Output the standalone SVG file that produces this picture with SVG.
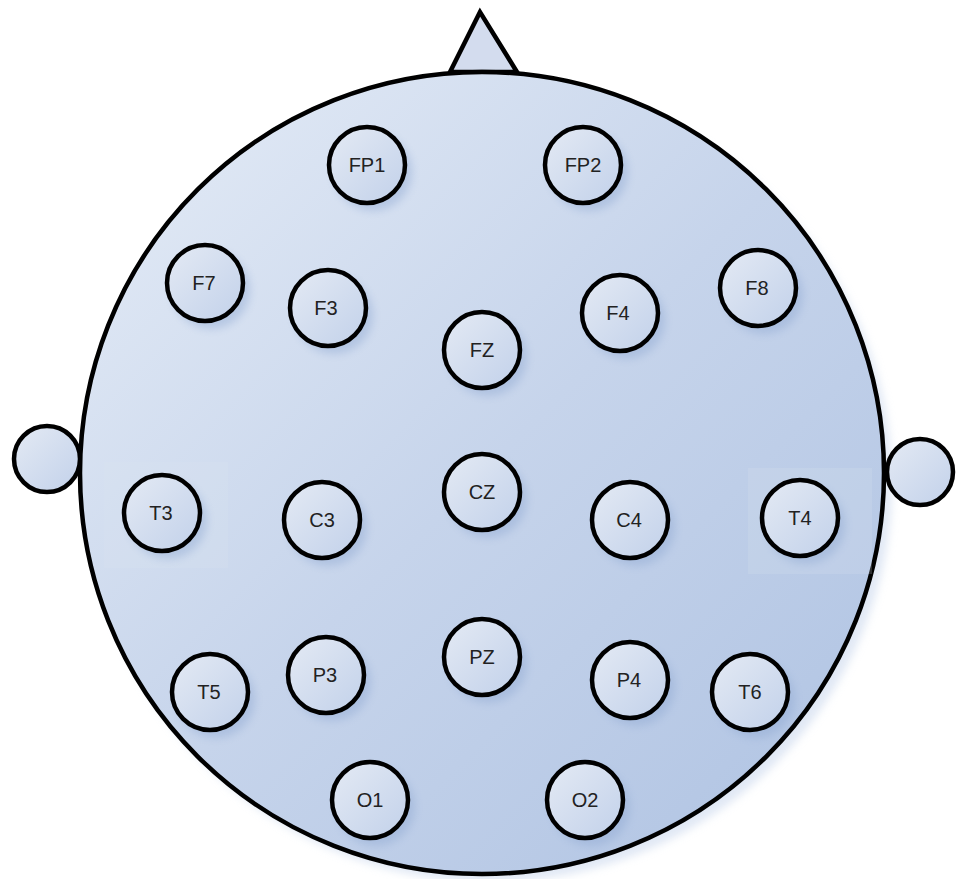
<svg xmlns="http://www.w3.org/2000/svg" width="956" height="879" viewBox="0 0 956 879">
<style>
.el{fill:url(#eg);stroke:#000;stroke-width:4.5}
.lb{font-family:"Liberation Sans",Arial,sans-serif;font-size:20px;fill:#222;text-anchor:middle}
.sh{fill:#8fa8d2;opacity:0.45;filter:url(#bl)}
.out{stroke:#000;stroke-width:4.5}
</style>
<defs>
<linearGradient id="hg" x1="0" y1="0" x2="1" y2="1">
<stop offset="0" stop-color="#e6edf7"/>
<stop offset="0.5" stop-color="#c6d4eb"/>
<stop offset="1" stop-color="#aec2e2"/>
</linearGradient>
<linearGradient id="eg" x1="0" y1="0" x2="1" y2="1">
<stop offset="0" stop-color="#e4eaf4"/>
<stop offset="1" stop-color="#c2d1ea"/>
</linearGradient>
<filter id="bl" x="-30%" y="-30%" width="160%" height="160%"><feGaussianBlur stdDeviation="4"/></filter>
<symbol id="e" overflow="visible"><circle class="sh" cx="6" cy="7" r="39"/><circle class="el" r="38"/></symbol>
</defs>
<rect width="956" height="879" fill="#fff"/>
<g id="head">
<ellipse cx="490" cy="482" rx="402" ry="400" fill="#c3d2ea" opacity="0.5" filter="url(#bl)"/>
<polygon id="nose" points="480,12 450,72 517,72" fill="#d3dcee" class="out"/>
<circle id="ear-left" cx="47" cy="459" r="33" fill="url(#eg)" class="out"/>
<circle id="ear-right" cx="920" cy="472" r="33" fill="url(#eg)" class="out"/>
<ellipse cx="482" cy="473" rx="402" ry="401" fill="url(#hg)" class="out"/>
<rect x="104" y="462" width="124" height="106" fill="#dbe4f2" opacity="0.2"/>
<rect x="748" y="468" width="124" height="106" fill="#dbe4f2" opacity="0.2"/>
</g>
<g id="connectors"/>
<g id="FP1"><use href="#e" x="367" y="165"/><text class="lb" x="367" y="172">FP1</text></g>
<g id="FP2"><use href="#e" x="583" y="165"/><text class="lb" x="583" y="172">FP2</text></g>
<g id="F7"><use href="#e" x="205" y="283"/><text class="lb" x="204" y="290">F7</text></g>
<g id="F3"><use href="#e" x="328" y="308"/><text class="lb" x="326" y="315">F3</text></g>
<g id="FZ"><use href="#e" x="482" y="350"/><text class="lb" x="482" y="357">FZ</text></g>
<g id="F4"><use href="#e" x="620" y="313"/><text class="lb" x="618" y="320">F4</text></g>
<g id="F8"><use href="#e" x="758" y="288"/><text class="lb" x="757" y="295">F8</text></g>
<g id="T3"><use href="#e" x="162" y="513"/><text class="lb" x="161" y="520">T3</text></g>
<g id="C3"><use href="#e" x="322" y="520"/><text class="lb" x="322" y="527">C3</text></g>
<g id="CZ"><use href="#e" x="482" y="492"/><text class="lb" x="482" y="499">CZ</text></g>
<g id="C4"><use href="#e" x="630" y="520"/><text class="lb" x="629" y="527">C4</text></g>
<g id="T4"><use href="#e" x="800" y="518"/><text class="lb" x="800" y="525">T4</text></g>
<g id="T5"><use href="#e" x="210" y="692"/><text class="lb" x="209" y="699">T5</text></g>
<g id="P3"><use href="#e" x="326" y="675"/><text class="lb" x="325" y="682">P3</text></g>
<g id="PZ"><use href="#e" x="482" y="657"/><text class="lb" x="482" y="664">PZ</text></g>
<g id="P4"><use href="#e" x="630" y="680"/><text class="lb" x="629" y="687">P4</text></g>
<g id="T6"><use href="#e" x="750" y="692"/><text class="lb" x="750" y="699">T6</text></g>
<g id="O1"><use href="#e" x="370" y="800"/><text class="lb" x="370" y="807">O1</text></g>
<g id="O2"><use href="#e" x="585" y="800"/><text class="lb" x="585" y="807">O2</text></g>
</svg>
